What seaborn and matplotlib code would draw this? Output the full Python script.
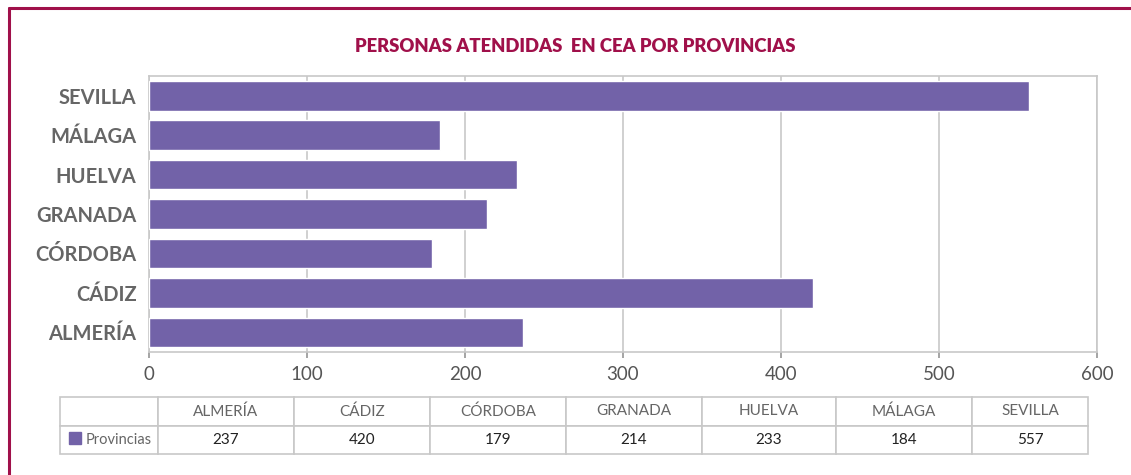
import matplotlib
matplotlib.use("Agg")
import matplotlib.pyplot as plt
import seaborn as sns
import pandas as pd
from matplotlib.patches import Rectangle
from matplotlib.lines import Line2D

provincias = ["ALMERÍA", "CÁDIZ", "CÓRDOBA", "GRANADA", "HUELVA", "MÁLAGA", "SEVILLA"]
personas = [237, 420, 179, 214, 233, 184, 557]
serie = "Provincias"
titulo = "PERSONAS ATENDIDAS  EN CEA POR PROVINCIAS"

BAR = "#7262A8"
MAROON = "#A0104A"
GRID = "#C8C8C8"

sns.set_theme(style="white")
plt.rcParams["font.family"] = ["Lato", "DejaVu Sans"]

df = pd.DataFrame({"provincia": provincias, "personas": personas})
W, H = 1131, 475
fig = plt.figure(figsize=(W / 100, H / 100), dpi=100)

def px(x0, y0, x1, y1):
    return [x0 / W, 1 - y1 / H, (x1 - x0) / W, (y1 - y0) / H]

ax = fig.add_axes(px(149, 76, 1097, 352))
sns.barplot(data=df, x="personas", y="provincia", order=provincias[::-1],
            color=BAR, saturation=1, width=0.75, ax=ax, zorder=3)
ax.set_xlim(0, 600)
ax.set_xticks(range(0, 601, 100))
ax.grid(axis="x", color=GRID, lw=1.2, zorder=0)
for s in ax.spines.values():
    s.set_color(GRID)
    s.set_linewidth(1.2)
ax.set_xlabel("")
ax.set_ylabel("")
ax.tick_params(axis="x", length=4, color="#999999", labelsize=13.5, labelcolor="#555555", pad=6, bottom=True)
ax.tick_params(axis="y", length=0, labelsize=14.5, labelcolor="#666666", pad=9)
for t in ax.get_yticklabels():
    t.set_fontweight("bold")

fig.text(575 / W, 1 - 46 / H, titulo, ha="center", va="center", color=MAROON,
         fontsize=13.3, fontweight="heavy")

# data table
tax = fig.add_axes(px(60, 397, 1088, 454))
tax.set_axis_off()
bounds = [60, 158, 294, 430, 566, 702, 836, 972, 1088]
widths = [(b - a) / (1088 - 60) for a, b in zip(bounds[:-1], bounds[1:])]
cells = [[""] + provincias, [serie] + [str(v) for v in personas]]
tbl = tax.table(cellText=cells, colWidths=widths, bbox=[0, 0, 1, 1], cellLoc="center")
tbl.auto_set_font_size(False)
for (r, c), cell in tbl.get_celld().items():
    cell.set_edgecolor(GRID)
    cell.set_linewidth(1.2)
    txt = cell.get_text()
    txt.set_fontsize(11)
    txt.set_color("#666666" if r == 0 else "#222222")
    if r == 1 and c == 0:
        txt.set_ha("left")
        txt.set_color("#666666")
        txt.set_fontsize(10.5)
        cell.PAD = 0.26
tax.add_patch(Rectangle(((69 - 60) / 1028, 10 / 57), 12 / 1028, 12 / 57,
                        transform=tax.transAxes, color=BAR, clip_on=False))

# outer frame
fig.add_artist(Line2D([8.5 / W, 8.5 / W], [0, 1 - 8 / H], color=MAROON, lw=2.2, transform=fig.transFigure))
fig.add_artist(Line2D([8.5 / W, 1], [1 - 8 / H, 1 - 8 / H], color=MAROON, lw=2.2, transform=fig.transFigure))

fig.savefig("out.png", dpi=100, facecolor="white")
